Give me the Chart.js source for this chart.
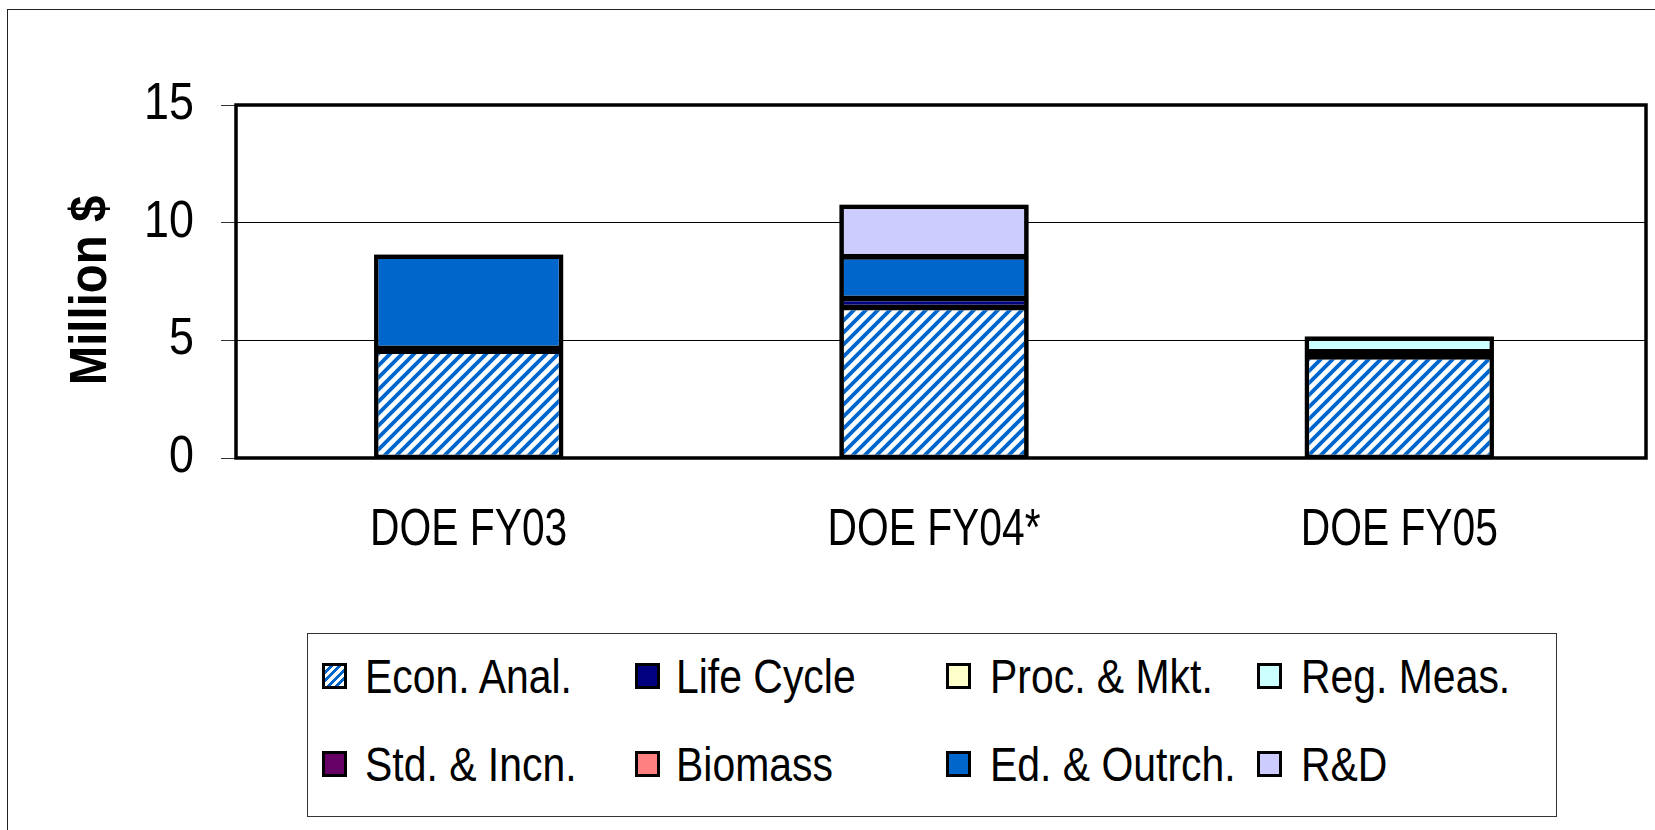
<!DOCTYPE html>
<html>
<head>
<meta charset="utf-8">
<script src="https://cdn.jsdelivr.net/npm/chart.js@4.4.1/dist/chart.umd.min.js"></script>
<style>
  html, body { margin: 0; padding: 0; background: #fff; }
  #wrap { position: relative; width: 1655px; height: 830px; overflow: hidden; background: #fff; }
  #frame { position: absolute; left: 7px; top: 9px; width: 1700px; height: 900px;
           border-left: 1.5px solid #222; border-top: 1.5px solid #222; }
  #chart { position: absolute; left: 0; top: 0; }
  #legend { position: absolute; left: 307px; top: 633px; width: 1250px; height: 184px;
            border: 1.5px solid #333; box-sizing: border-box; background: #fff; }
  .sw { position: absolute; width: 19px; height: 20px; border: 3px solid #000; }
  .tx { position: absolute; height: 60px; line-height: 60px; white-space: nowrap;
        font-family: 'Liberation Sans', Arial, sans-serif; font-size: 49px; color: #000;
        transform: scaleX(0.835); transform-origin: left center; }
</style>
</head>
<body>
<div id="wrap">
  <div id="frame"></div>
  <canvas id="chart" width="1655" height="830"></canvas>
  <div id="legend"></div>
</div>
<script>
// ---- data ----
const categories = ['DOE FY03', 'DOE FY04*', 'DOE FY05'];
const econAnal   = [4.55, 6.40, 4.30];
const lifeCycle  = [0.10, 0.38, 0.20];
const procMkt    = [0, 0, 0];
const regMeas    = [0, 0, 0.60];
const stdIncn    = [0, 0, 0];
const biomass    = [0, 0, 0];
const edOutrch   = [3.93, 1.77, 0];
const rAndD      = [0, 2.15, 0];
const seriesNames = ['Econ. Anal.', 'Life Cycle', 'Proc. & Mkt.', 'Reg. Meas.',
                     'Std. & Incn.', 'Biomass', 'Ed. & Outrch.', 'R&D'];
const yTicks = [0, 5, 10, 15];
const yTitle = 'Million $';

// ---- styles ----
const FONT = "'Liberation Sans', Arial, sans-serif";
function makeHatch() {
  const c = document.createElement('canvas');
  c.width = 12; c.height = 12;
  const g = c.getContext('2d');
  g.fillStyle = '#ffffff'; g.fillRect(0, 0, 12, 12);
  g.strokeStyle = '#0066cc'; g.lineWidth = 3.8;
  g.beginPath();
  for (const o of [-12, 0, 12]) { g.moveTo(o - 2, 14); g.lineTo(o + 14, -2); }
  g.stroke();
  return g.createPattern(c, 'repeat');
}
const hatch = makeHatch();
const fills = [hatch, '#000080', '#ffffcc', '#ccffff', '#660066', '#ff8080', '#0066cc', '#ccccff'];
const swatchCss = ['repeating-linear-gradient(135deg,#fff 0 3px,#0066cc 3px 6px)',
                   '#000080', '#ffffcc', '#ccffff', '#660066', '#ff8080', '#0066cc', '#ccccff'];
const seriesValues = [econAnal, lifeCycle, procMkt, regMeas, stdIncn, biomass, edOutrch, rAndD];

const datasets = seriesNames.map((name, i) => ({
  label: name,
  data: seriesValues[i],
  backgroundColor: fills[i],
  borderColor: '#000',
  borderWidth: 3,
  borderSkipped: false,
  inflateAmount: 0,
  categoryPercentage: 1.0,
  barPercentage: 0.40
}));

// condensed text look (the original renders narrow Arial-like glyphs)
const TITLE_SHIFT = -9;   // along the rotated title direction (moves it down a little)
const condense = {
  id: 'condense',
  beforeDraw(chart) {
    const ctx = chart.ctx;
    if (ctx._origFillText) return;
    const orig = ctx.fillText;
    ctx._origFillText = orig;
    ctx.fillText = function (text, x, y) {
      const bold = /bold/.test(this.font);
      const f = bold ? 0.93 : (this.textAlign === 'right' ? 0.88 : 0.8);
      this.save();
      this.translate(x, y);
      if (bold) this.translate(TITLE_SHIFT, 0);
      this.scale(f, 1);
      orig.call(this, text, 0, 0);
      this.restore();
    };
  },
  afterDraw(chart) {
    const ctx = chart.ctx;
    if (ctx._origFillText) { ctx.fillText = ctx._origFillText; delete ctx._origFillText; }
  }
};

// segment edges (hides anti-alias seams), outline round each whole stack, plot-area frame
const EXT = 14;
const outlines = {
  id: 'outlines',
  afterDatasetsDraw(chart) {
    const { ctx, chartArea: a } = chart;
    const y = chart.scales.y;
    ctx.save();
    ctx.strokeStyle = '#000';
    ctx.lineWidth = 2;
    chart.data.datasets.forEach((ds, di) => {
      chart.getDatasetMeta(di).data.forEach((el, ci) => {
        if (!ds.data[ci]) return;
        const p = el.getProps(['x', 'y', 'base', 'width'], true);
        ctx.strokeRect(p.x - p.width / 2, Math.min(p.y, p.base), p.width, Math.abs(p.base - p.y));
      });
    });
    ctx.lineWidth = 3;
    categories.forEach((c, ci) => {
      let top = Infinity, base = -Infinity, left = 0, right = 0, any = false;
      chart.data.datasets.forEach((ds, di) => {
        const el = chart.getDatasetMeta(di).data[ci];
        if (!el || !ds.data[ci]) return;
        const p = el.getProps(['x', 'y', 'base', 'width'], true);
        top = Math.min(top, p.y, p.base);
        base = Math.max(base, p.y, p.base);
        left = p.x - p.width / 2; right = p.x + p.width / 2; any = true;
      });
      if (any) ctx.strokeRect(left, top, right - left, base - top);
    });
    ctx.lineWidth = 1;
    yTicks.forEach(v => {
      const p = Math.round(y.getPixelForValue(v) - 0.5) + 0.5;
      ctx.beginPath(); ctx.moveTo(a.right - 1, p); ctx.lineTo(a.right + EXT, p); ctx.stroke();
    });
    ctx.lineWidth = 3.5;
    ctx.strokeRect(a.left, a.top, a.right + EXT - a.left, a.bottom - a.top);
    ctx.restore();
  }
};

const chart = new Chart(document.getElementById('chart'), {
  type: 'bar',
  data: { labels: categories, datasets },
  plugins: [condense, outlines],
  options: {
    responsive: false,
    animation: false,
    layout: { padding: { left: 0, top: 105, right: 23, bottom: 0 } },
    plugins: { legend: { display: false }, tooltip: { enabled: false } },
    scales: {
      x: {
        stacked: true,
        grid: { display: false, drawTicks: false },
        border: { display: false },
        ticks: { color: '#000', font: { family: FONT, size: 51 }, padding: 42,
                 autoSkip: false, maxRotation: 0 },
        afterFit(s) { s.height = 372; }
      },
      y: {
        stacked: true,
        min: 0, max: 15,
        afterBuildTicks(s) { s.ticks = yTicks.map(v => ({ value: v })); },
        grid: { color: '#000', lineWidth: 1, drawTicks: true, tickLength: 15, tickColor: '#333' },
        border: { display: false },
        ticks: { color: '#000', font: { family: FONT, size: 51 }, padding: 27 },
        title: { display: true, text: yTitle, color: '#000',
                 font: { family: FONT, size: 51, weight: 'bold' },
                 padding: { top: 61, bottom: 0 } },
        afterFit(s) { s.width = 236; }
      }
    }
  }
});

// ---- HTML legend built from the datasets (2 rows x 4 columns) ----
const swLeft = [14, 327, 638, 949];
const txLeft = [57, 368, 682, 993];
const rowMid = [42, 130];
const legendEl = document.getElementById('legend');
chart.data.datasets.forEach((ds, i) => {
  const col = i % 4, row = Math.floor(i / 4);
  const sw = document.createElement('div');
  sw.className = 'sw';
  sw.style.left = swLeft[col] + 'px';
  sw.style.top = (rowMid[row] - 13) + 'px';
  sw.style.background = swatchCss[i];
  const tx = document.createElement('div');
  tx.className = 'tx';
  tx.style.left = txLeft[col] + 'px';
  tx.style.top = (rowMid[row] - 30) + 'px';
  tx.textContent = ds.label;
  legendEl.appendChild(sw);
  legendEl.appendChild(tx);
});
</script>
</body>
</html>
